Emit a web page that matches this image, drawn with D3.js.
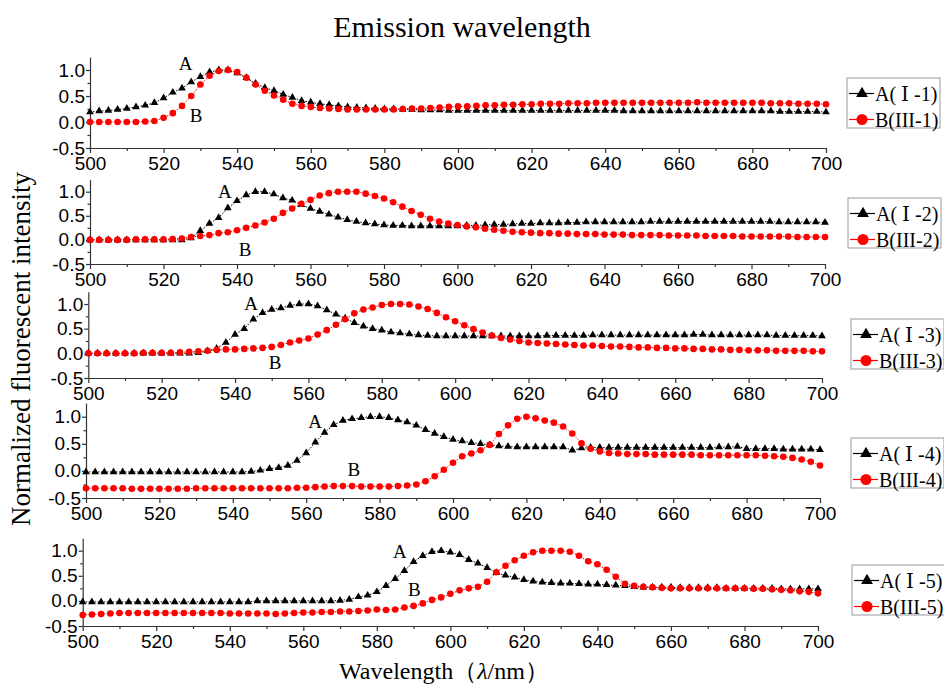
<!DOCTYPE html>
<html>
<head>
<meta charset="utf-8">
<script src="https://cdn.jsdelivr.net/npm/d3@7"></script>
<style>
  body { margin: 0; background: #fff; }
  svg { display: block; }
</style>
</head>
<body>
<div id="chart"></div>
<script>
// sampling grid of the spectra (nm), one point every 2.5 nm
const wavelengths = d3.range(500, 700.01, 2.5);

// normalized intensities, rows of 20 nm (500, 520, ... 680) then 700
const a1 = [0.19, 0.21, 0.22, 0.24, 0.26, 0.29, 0.32, 0.37,
  0.46, 0.57, 0.65, 0.77, 0.87, 0.96, 1.0, 1.0,
  0.94, 0.85, 0.74, 0.66, 0.6, 0.53, 0.47, 0.41,
  0.38, 0.35, 0.33, 0.31, 0.29, 0.28, 0.27, 0.26,
  0.25, 0.25, 0.24, 0.24, 0.23, 0.23, 0.23, 0.22,
  0.22, 0.22, 0.22, 0.22, 0.22, 0.22, 0.22, 0.22,
  0.22, 0.22, 0.22, 0.22, 0.22, 0.22, 0.22, 0.22,
  0.22, 0.22, 0.21, 0.21, 0.21, 0.21, 0.21, 0.21,
  0.21, 0.21, 0.21, 0.21, 0.21, 0.21, 0.21, 0.21,
  0.21, 0.21, 0.21, 0.2, 0.2, 0.2, 0.2, 0.2,
  0.19];
const b1 = [0, 0, 0, 0, 0, 0, 0.01, 0.02,
  0.08, 0.17, 0.31, 0.5, 0.72, 0.89, 0.98, 1.0,
  0.96, 0.85, 0.72, 0.6, 0.51, 0.43, 0.35, 0.31,
  0.29, 0.27, 0.26, 0.25, 0.24, 0.24, 0.24, 0.24,
  0.24, 0.24, 0.25, 0.26, 0.26, 0.27, 0.28, 0.29,
  0.3, 0.3, 0.31, 0.32, 0.32, 0.33, 0.33, 0.34,
  0.34, 0.35, 0.35, 0.35, 0.36, 0.36, 0.36, 0.37,
  0.37, 0.37, 0.37, 0.37, 0.37, 0.37, 0.37, 0.37,
  0.37, 0.37, 0.38, 0.37, 0.37, 0.37, 0.37, 0.37,
  0.37, 0.37, 0.36, 0.36, 0.36, 0.35, 0.35, 0.35,
  0.34];
const a2 = [0, 0, 0, 0, 0, 0, 0, 0,
  0, 0, 0, 0.04, 0.19, 0.34, 0.46, 0.66,
  0.81, 0.93, 1.0, 1.0, 0.95, 0.87, 0.82, 0.73,
  0.65, 0.59, 0.53, 0.47, 0.42, 0.38, 0.35, 0.33,
  0.31, 0.3, 0.3, 0.29, 0.29, 0.29, 0.29, 0.29,
  0.29, 0.3, 0.3, 0.31, 0.32, 0.32, 0.33, 0.34,
  0.34, 0.35, 0.35, 0.35, 0.36, 0.36, 0.37, 0.37,
  0.37, 0.37, 0.37, 0.37, 0.37, 0.38, 0.38, 0.38,
  0.38, 0.38, 0.38, 0.38, 0.38, 0.38, 0.38, 0.38,
  0.38, 0.38, 0.38, 0.37, 0.37, 0.37, 0.37, 0.37,
  0.36];
const b2 = [0, 0, 0, 0, 0, 0.01, 0.01, 0.01,
  0.01, 0.02, 0.03, 0.06, 0.08, 0.1, 0.14, 0.16,
  0.2, 0.25, 0.3, 0.36, 0.44, 0.56, 0.65, 0.75,
  0.83, 0.92, 0.97, 1.0, 1.0, 1.0, 0.96, 0.91,
  0.86, 0.78, 0.69, 0.6, 0.52, 0.44, 0.38, 0.34,
  0.31, 0.28, 0.26, 0.23, 0.21, 0.19, 0.17, 0.16,
  0.15, 0.14, 0.14, 0.13, 0.13, 0.12, 0.12, 0.12,
  0.11, 0.11, 0.11, 0.1, 0.1, 0.1, 0.1, 0.09,
  0.09, 0.09, 0.09, 0.08, 0.08, 0.08, 0.08, 0.07,
  0.07, 0.07, 0.07, 0.07, 0.07, 0.06, 0.06, 0.06,
  0.06];
const a3 = [0, 0, 0, 0, 0, 0, 0, 0,
  0, 0, 0, 0, 0.01, 0.05, 0.1, 0.22,
  0.38, 0.5, 0.69, 0.82, 0.89, 0.92, 0.97, 1.0,
  1.0, 0.96, 0.88, 0.79, 0.71, 0.62, 0.55, 0.5,
  0.47, 0.43, 0.41, 0.39, 0.37, 0.36, 0.35, 0.35,
  0.35, 0.35, 0.35, 0.35, 0.35, 0.35, 0.35, 0.35,
  0.35, 0.35, 0.36, 0.36, 0.36, 0.36, 0.36, 0.37,
  0.37, 0.37, 0.37, 0.37, 0.37, 0.37, 0.37, 0.37,
  0.37, 0.37, 0.38, 0.38, 0.37, 0.37, 0.37, 0.37,
  0.37, 0.37, 0.37, 0.36, 0.36, 0.36, 0.36, 0.36,
  0.35];
const b3 = [0, 0, 0, 0, 0, 0, 0.01, 0.01,
  0.01, 0.01, 0.02, 0.03, 0.04, 0.05, 0.07, 0.08,
  0.08, 0.09, 0.1, 0.11, 0.13, 0.17, 0.22, 0.26,
  0.3, 0.38, 0.47, 0.58, 0.69, 0.81, 0.89, 0.93,
  0.98, 1.0, 1.0, 0.99, 0.95, 0.9, 0.82, 0.73,
  0.65, 0.57, 0.49, 0.42, 0.36, 0.31, 0.28, 0.25,
  0.22, 0.21, 0.2, 0.19, 0.18, 0.17, 0.16, 0.16,
  0.15, 0.14, 0.14, 0.13, 0.12, 0.12, 0.11, 0.11,
  0.1, 0.1, 0.09, 0.09, 0.08, 0.08, 0.07, 0.07,
  0.06, 0.06, 0.06, 0.05, 0.05, 0.05, 0.05, 0.04,
  0.04];
const a4 = [-0.02, -0.02, -0.02, -0.02, -0.02, -0.02, -0.02, -0.02,
  -0.02, -0.02, -0.02, -0.02, -0.02, -0.02, -0.02, -0.02,
  -0.02, -0.02, -0.01, 0.01, 0.04, 0.06, 0.1, 0.19,
  0.33, 0.53, 0.71, 0.85, 0.93, 0.96, 0.98, 1.0,
  1.0, 0.98, 0.94, 0.9, 0.84, 0.76, 0.69, 0.63,
  0.58, 0.55, 0.52, 0.5, 0.48, 0.46, 0.45, 0.44,
  0.44, 0.44, 0.44, 0.44, 0.44, 0.38, 0.42, 0.43,
  0.43, 0.43, 0.43, 0.43, 0.43, 0.43, 0.43, 0.43,
  0.43, 0.43, 0.43, 0.43, 0.43, 0.44, 0.44, 0.45,
  0.41, 0.41, 0.41, 0.41, 0.4, 0.4, 0.4, 0.4,
  0.39];
const b4 = [-0.32, -0.32, -0.32, -0.32, -0.32, -0.33, -0.33, -0.33,
  -0.33, -0.33, -0.33, -0.33, -0.32, -0.32, -0.32, -0.32,
  -0.32, -0.32, -0.32, -0.32, -0.32, -0.32, -0.32, -0.31,
  -0.31, -0.3, -0.29, -0.28, -0.28, -0.28, -0.29, -0.29,
  -0.29, -0.29, -0.28, -0.27, -0.25, -0.19, -0.1, 0.02,
  0.15, 0.27, 0.32, 0.38, 0.48, 0.68, 0.84, 0.96,
  1.0, 0.97, 0.93, 0.89, 0.82, 0.69, 0.51, 0.41,
  0.36, 0.33, 0.32, 0.31, 0.31, 0.31, 0.3, 0.3,
  0.3, 0.3, 0.3, 0.29, 0.29, 0.29, 0.29, 0.29,
  0.29, 0.29, 0.28, 0.27, 0.26, 0.24, 0.21, 0.17,
  0.1];
const a5 = [-0.02, -0.02, -0.02, -0.02, -0.02, -0.02, -0.02, -0.02,
  -0.02, -0.02, -0.02, -0.02, -0.02, -0.02, -0.02, -0.02,
  -0.02, -0.02, -0.02, 0, 0, 0, 0, 0,
  0, 0, 0, 0, 0.01, 0.03, 0.08, 0.11,
  0.18, 0.3, 0.44, 0.6, 0.78, 0.9, 0.98, 1.0,
  0.97, 0.92, 0.82, 0.75, 0.66, 0.56, 0.51, 0.47,
  0.42, 0.39, 0.37, 0.36, 0.35, 0.35, 0.34, 0.33,
  0.33, 0.32, 0.31, 0.3, 0.28, 0.27, 0.27, 0.27,
  0.27, 0.26, 0.26, 0.26, 0.26, 0.26, 0.25, 0.25,
  0.25, 0.25, 0.25, 0.25, 0.24, 0.24, 0.24, 0.24,
  0.24];
const b5 = [-0.28, -0.27, -0.26, -0.25, -0.24, -0.24, -0.24, -0.24,
  -0.24, -0.24, -0.24, -0.24, -0.24, -0.24, -0.24, -0.24,
  -0.25, -0.25, -0.25, -0.25, -0.25, -0.26, -0.25, -0.24,
  -0.23, -0.23, -0.22, -0.22, -0.21, -0.21, -0.2, -0.19,
  -0.17, -0.18, -0.17, -0.13, -0.1, -0.05, 0.02, 0.07,
  0.14, 0.21, 0.25, 0.28, 0.38, 0.57, 0.7, 0.81,
  0.9, 0.97, 1.0, 1.0, 1.0, 0.98, 0.9, 0.79,
  0.73, 0.62, 0.48, 0.34, 0.3, 0.28, 0.27, 0.26,
  0.25, 0.25, 0.25, 0.25, 0.25, 0.25, 0.25, 0.25,
  0.25, 0.24, 0.24, 0.23, 0.22, 0.21, 0.19, 0.18,
  0.15];

const seriesA = [a1, a2, a3, a4, a5];
const seriesB = [b1, b2, b3, b4, b5];
const legendA = ['A( Ⅰ -1)', 'A( Ⅰ -2)', 'A( Ⅰ -3)', 'A( Ⅰ -4)', 'A( Ⅰ -5)'];
const legendB = ['B(III-1)', 'B(III-2)', 'B(III-3)', 'B(III-4)', 'B(III-5)'];
// curve labels "A" / "B" in data coords [nm, value]
const labelA = [[526, 1.12], [536.7, 1.0], [544.4, 1.02], [562.4, 0.92], [586.3, 0.98]];
const labelB = [[528.8, 0.12], [542.2, -0.19], [550.9, -0.18], [573, 0.03], [590.2, 0.23]];
const xTicks = d3.range(500, 701, 20);
const xMinor = d3.range(510, 700, 20);
const yTicks = [-0.5, 0, 0.5, 1.0];
const yMinor = [-0.25, 0.25, 0.75];

// panel boxes (pixels): x of 500 / 700, y of -0.5 / 1.0, legend corner
const layout = [
  {x0: 90, x1: 826, yLo: 148, yHi: 70, lx: 847, ly: 78},
  {x0: 90, x1: 825, yLo: 264, yHi: 191.7, lx: 848, ly: 198},
  {x0: 88.3, x1: 822, yLo: 378, yHi: 304, lx: 851, ly: 319},
  {x0: 86, x1: 820, yLo: 498, yHi: 416.7, lx: 851, ly: 438},
  {x0: 82.7, x1: 818, yLo: 626, yHi: 550.7, lx: 852, ly: 565}
];

const width = 944, height = 688;
const serif = '"Liberation Serif", "DejaVu Serif", serif';
const sans = '"Liberation Sans", Arial, sans-serif';
const axisColor = '#333';
const red = '#ff0000';

const svg = d3.select('#chart').append('svg')
  .attr('width', width)
  .attr('height', height);

const triangle = d3.symbol().type(d3.symbolTriangle);

function drawPanel(i) {
  const L = layout[i];
  const unit = (L.yLo - L.yHi) / 1.5;
  const x = d3.scaleLinear().domain([500, 700]).range([L.x0, L.x1]);
  const y = d3.scaleLinear().domain([-0.5, 1.25]).range([L.yLo, L.yLo - 1.75 * unit]);
  const g = svg.append('g');

  // axes
  const xAxis = g.append('g')
    .attr('transform', `translate(0,${L.yLo})`)
    .call(d3.axisBottom(x).tickValues(xTicks).tickSize(5).tickSizeOuter(0).tickPadding(4));
  g.append('g')
    .attr('transform', `translate(0,${L.yLo})`)
    .call(d3.axisBottom(x).tickValues(xMinor).tickSize(3).tickFormat(''))
    .call(a => a.select('.domain').remove());
  const yAxis = g.append('g')
    .attr('transform', `translate(${L.x0},0)`)
    .call(d3.axisLeft(y).tickValues(yTicks).tickSize(4).tickSizeOuter(0).tickPadding(1)
      .tickFormat(d => d.toFixed(1)));
  g.append('g')
    .attr('transform', `translate(${L.x0},0)`)
    .call(d3.axisLeft(y).tickValues(yMinor).tickSize(2.5).tickFormat(''))
    .call(a => a.select('.domain').remove());
  g.selectAll('.domain, .tick line').attr('stroke', axisColor).attr('stroke-width', 1.2);
  [xAxis, yAxis].forEach(a => a.selectAll('text')
    .attr('fill', '#000')
    .style('font-family', sans)
    .style('font-size', '19px'));

  // series
  const line = d3.line().x((d, k) => x(wavelengths[k])).y(d => y(d));
  g.append('path').datum(seriesA[i])
    .attr('fill', 'none').attr('stroke', '#000').attr('stroke-width', 1)
    .attr('stroke-dasharray', '1.5,1.5').attr('d', line);
  g.append('path').datum(seriesB[i])
    .attr('fill', 'none').attr('stroke', red).attr('stroke-width', 1)
    .attr('stroke-dasharray', '1.5,1.5').attr('d', line);

  g.append('g').selectAll('path').data(seriesA[i]).enter().append('path')
    .attr('d', triangle.size(26))
    .attr('transform', (d, k) => `translate(${x(wavelengths[k])},${y(d)})`)
    .attr('fill', '#000');
  g.append('g').selectAll('circle').data(seriesB[i]).enter().append('circle')
    .attr('cx', (d, k) => x(wavelengths[k]))
    .attr('cy', d => y(d))
    .attr('r', 3.3)
    .attr('fill', red);

  // curve labels
  [[labelA[i], 'A'], [labelB[i], 'B']].forEach(([p, t]) => {
    g.append('text')
      .attr('x', x(p[0])).attr('y', y(p[1]))
      .attr('text-anchor', 'middle').attr('dominant-baseline', 'central')
      .style('font-family', serif).style('font-size', '19px')
      .text(t);
  });

  // legend
  const lg = g.append('g').attr('transform', `translate(${L.lx},${L.ly})`);
  lg.append('rect')
    .attr('width', 93).attr('height', 50)
    .attr('fill', '#fff').attr('stroke', '#999').attr('stroke-width', 1);
  [[legendA[i], '#000', 'tri', 15.5], [legendB[i], red, 'circ', 41.5]].forEach(([t, c, m, yy]) => {
    lg.append('line')
      .attr('x1', 2).attr('x2', 27).attr('y1', yy).attr('y2', yy)
      .attr('stroke', c).attr('stroke-width', 1.2);
    if (m === 'tri') {
      lg.append('path').attr('d', triangle.size(60))
        .attr('transform', `translate(15,${yy})`).attr('fill', c);
    } else {
      lg.append('circle').attr('cx', 15).attr('cy', yy).attr('r', 5.5).attr('fill', c);
    }
    lg.append('text')
      .attr('x', 28).attr('y', yy + 7)
      .style('font-family', serif).style('font-size', '20px')
      .text(t);
  });
}

layout.forEach((L, i) => drawPanel(i));

// title and axis titles
svg.append('text')
  .attr('x', 462).attr('y', 37)
  .attr('text-anchor', 'middle')
  .style('font-family', serif).style('font-size', '30px')
  .text('Emission wavelength');

svg.append('text')
  .attr('transform', 'translate(30,349) rotate(-90)')
  .attr('text-anchor', 'middle')
  .style('font-family', serif).style('font-size', '27px')
  .text('Normalized fluorescent intensity');

const xl = svg.append('text')
  .attr('x', 444).attr('y', 679)
  .attr('text-anchor', 'middle')
  .style('font-family', serif).style('font-size', '24px');
xl.append('tspan').text('Wavelength（');
xl.append('tspan').style('font-style', 'italic').text('λ');
xl.append('tspan').text('/nm）');
</script>
</body>
</html>
